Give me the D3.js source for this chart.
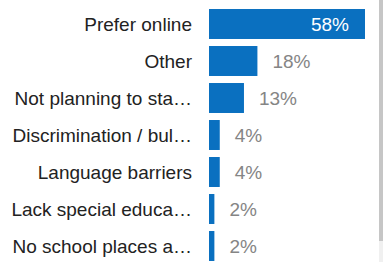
<!DOCTYPE html>
<html lang="en">
<head>
    <meta charset="UTF-8">
    <script src="https://cdn.jsdelivr.net/npm/d3@7"></script>
    <style>
        body { margin: 0; background: #fff; }
        text { font-family: "Liberation Sans", Arial, sans-serif; }
    </style>
</head>
<body>
<script type="text/javascript">
    var w = 383;
    var h = 262;

    var categories = [
        "Prefer online",
        "Other",
        "Not planning to sta\u2026",
        "Discrimination / bul\u2026",
        "Language barriers",
        "Lack special educa\u2026",
        "No school places a\u2026"
    ];
    var values = [58, 18, 13, 4, 4, 2, 2];

    var dataset = categories.map(function (c, i) {
        return { name: c, value: values[i] };
    });

    var xScale = d3.scaleLinear()
        .domain([0, 58])
        .range([209, 365]);

    var yScale = d3.scaleBand()
        .domain(categories)
        .range([5.5, 264.5])
        .paddingInner(0.19)
        .paddingOuter(0.095);

    var svg = d3.select("body")
        .append("svg")
        .attr("width", w)
        .attr("height", h);

    svg.selectAll("rect.bar")
        .data(dataset)
        .enter()
        .append("rect")
        .attr("class", "bar")
        .attr("x", xScale(0))
        .attr("y", function (d) { return yScale(d.name); })
        .attr("width", function (d) { return xScale(d.value) - xScale(0); })
        .attr("height", yScale.bandwidth())
        .attr("fill", "#0a70c0");

    // category labels
    svg.selectAll("text.cat")
        .data(dataset)
        .enter()
        .append("text")
        .attr("class", "cat")
        .attr("x", 192)
        .attr("y", function (d) { return yScale(d.name) + yScale.bandwidth() / 2; })
        .attr("dy", "0.36em")
        .attr("text-anchor", "end")
        .attr("font-size", "19px")
        .attr("fill", "#222")
        .text(function (d) { return d.name; });

    // value labels: inside the long bar, after the others
    svg.selectAll("text.val")
        .data(dataset)
        .enter()
        .append("text")
        .attr("class", "val")
        .attr("x", function (d, i) {
            return i === 0 ? xScale(d.value) - 16 : xScale(d.value) + 15;
        })
        .attr("y", function (d) { return yScale(d.name) + yScale.bandwidth() / 2; })
        .attr("dy", "0.36em")
        .attr("text-anchor", function (d, i) { return i === 0 ? "end" : "start"; })
        .attr("font-size", "19px")
        .attr("fill", function (d, i) { return i === 0 ? "#fff" : "#858585"; })
        .text(function (d) { return d.value + "%"; });

    // scrollbar on the right edge
    svg.append("rect")
        .attr("x", 379).attr("y", 0).attr("width", 4).attr("height", h)
        .attr("fill", "#f0f0f0");
    svg.append("rect")
        .attr("x", 379).attr("y", 0).attr("width", 4).attr("height", 241)
        .attr("fill", "#c6c6c6");
</script>
</body>
</html>
